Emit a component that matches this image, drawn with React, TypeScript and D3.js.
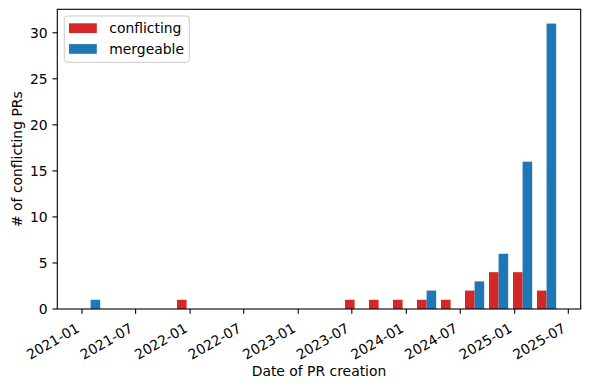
import React from "react"
import * as d3 from "d3"

// histogram bins: 20 bins of ~81 days starting mid Dec 2020
const binStart = new Date(2020, 11, 20, 12)
const binDays = 81.03
const conflicting = [0, 0, 0, 0, 1, 0, 0, 0, 0, 0, 0, 1, 1, 1, 1, 1, 2, 4, 4, 2]
const mergeable = [1, 0, 0, 0, 0, 0, 0, 0, 0, 0, 0, 0, 0, 0, 2, 0, 3, 6, 16, 31]
const seriesNames = ["conflicting", "mergeable"]
const seriesColors = ["#d62728", "#1f77b4"]

const xTickLabels = ["2021-01", "2021-07", "2022-01", "2022-07", "2023-01", "2023-07", "2024-01", "2024-07", "2025-01", "2025-07"]
const yTicks = [0, 5, 10, 15, 20, 25, 30]

const W = 590
const H = 389
const M = { left: 57.3, right: 9.3, top: 9.3, bottom: 80 }
const FONT = "DejaVu Sans, sans-serif"
const FS = 13.9

export default function App() {
  const x = d3
    .scaleTime()
    .domain([new Date(2020, 9, 9, 14), new Date(2025, 7, 11, 19)])
    .range([M.left, W - M.right])
  const y = d3.scaleLinear().domain([0, 32.55]).range([H - M.bottom, M.top])

  const bins = conflicting.map((c, i) => {
    const s = d3.timeHour.offset(binStart, Math.round(i * binDays * 24))
    const e = d3.timeHour.offset(binStart, Math.round((i + 1) * binDays * 24))
    return { x0: x(s), x1: x(e), values: [c, mergeable[i]] }
  })

  const parseTick = d3.timeParse("%Y-%m")
  const y0 = y(0)
  const tickLen = 4.86

  return (
    <svg width={W} height={H} style={{ position: "absolute", left: 0, top: 0, background: "#fff" }} fontFamily={FONT}>
      {/* bars */}
      {bins.map((b, i) => {
        const bw = b.x1 - b.x0
        return b.values.map((v, k) =>
          v > 0 ? (
            <rect
              key={`${i}-${k}`}
              x={b.x0 + bw * 0.1 + k * bw * 0.4}
              y={y(v)}
              width={bw * 0.4}
              height={y0 - y(v)}
              fill={seriesColors[k]}
            />
          ) : null
        )
      })}

      {/* frame */}
      <rect x={M.left} y={M.top} width={W - M.left - M.right} height={y0 - M.top} fill="none" stroke="#000" strokeWidth={1.1} />

      {/* x ticks */}
      {xTickLabels.map((t) => {
        const tx = x(parseTick(t)!)
        return (
          <g key={t}>
            <line x1={tx} x2={tx} y1={y0} y2={y0 + tickLen} stroke="#000" strokeWidth={1.1} />
            <text
              transform={`translate(${tx - 1.6},${y0 + 22}) rotate(-30)`}
              textAnchor="end"
              fontSize={FS}
              fill="#000"
            >
              {t}
            </text>
          </g>
        )
      })}

      {/* y ticks */}
      {yTicks.map((t) => (
        <g key={t}>
          <line x1={M.left - tickLen} x2={M.left} y1={y(t)} y2={y(t)} stroke="#000" strokeWidth={1.1} />
          <text x={M.left - 9.7} y={y(t)} dy="0.36em" textAnchor="end" fontSize={FS} fill="#000">
            {t}
          </text>
        </g>
      ))}

      {/* axis labels */}
      <text x={(M.left + W - M.right) / 2} y={376} textAnchor="middle" fontSize={FS} fill="#000">
        Date of PR creation
      </text>
      <text transform={`translate(21.5,${(M.top + y0) / 2}) rotate(-90)`} textAnchor="middle" fontSize={FS} fill="#000">
        # of conflicting PRs
      </text>

      {/* legend */}
      <rect x={64.3} y={16} width={125} height={46.3} rx={3} fill="#fff" fillOpacity={0.8} stroke="#cccccc" strokeWidth={1} />
      {seriesNames.map((n, k) => (
        <g key={n}>
          <rect x={69} y={23.3 + k * 20.8} width={27.8} height={9.7} fill={seriesColors[k]} />
          <text x={109.3} y={33.2 + k * 20.8} fontSize={FS} fill="#000">
            {n}
          </text>
        </g>
      ))}
    </svg>
  )
}
